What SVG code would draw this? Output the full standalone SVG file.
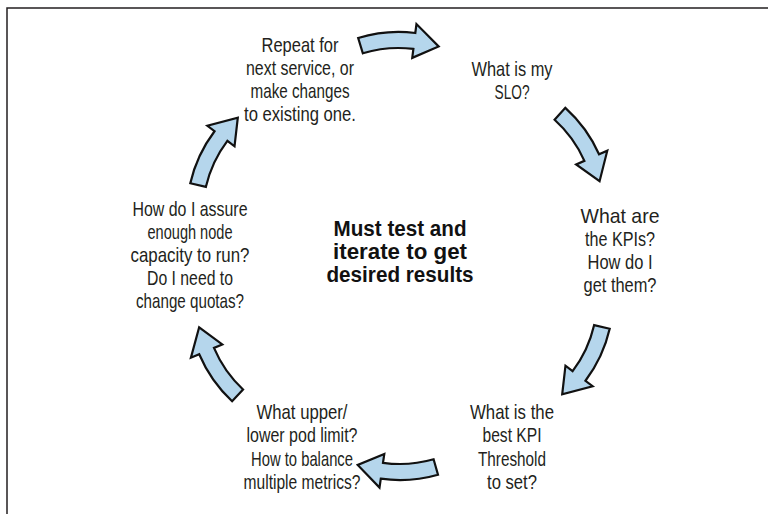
<svg xmlns="http://www.w3.org/2000/svg" xmlns:xlink="http://www.w3.org/1999/xlink" width="768" height="514" viewBox="0 0 768 514">
  <style>
    .frame { fill: none; stroke: #231f20; stroke-width: 1.5; }
    .arrow { fill: #b5d6ec; stroke: #111; stroke-width: 2.2; stroke-linejoin: miter; }
    .t { font-family: "Liberation Sans", Arial, sans-serif; font-size: 21px; fill: #231f20; text-anchor: middle; }
    .b { font-family: "Liberation Sans", Arial, sans-serif; font-size: 22px; font-weight: bold; fill: #111; text-anchor: middle; }
  </style>
  <defs>
    <!-- curved block arrow, drawn at the top of the cycle (relative to the cycle centre) -->
    <path id="cycle-arrow" class="arrow" d="M -38.0,-218.7 A 138 138 0 0 1 19.2,-222.7 L 20.5,-231.6 L 42.3,-208.9 L 15.7,-197.9 L 17.0,-206.8 A 122 122 0 0 0 -33.6,-203.3 Z"/>
  </defs>

  <rect width="768" height="514" fill="#fff"/>
  <path class="frame" d="M7,514 V8 H768"/>

  <g id="connectors">
    <use xlink:href="#cycle-arrow" transform="translate(400,256) rotate(-1)"/>
    <use xlink:href="#cycle-arrow" transform="translate(400,256) rotate(58)"/>
    <use xlink:href="#cycle-arrow" transform="translate(400,256) rotate(119)"/>
    <use xlink:href="#cycle-arrow" transform="translate(400,256) rotate(180)"/>
    <use xlink:href="#cycle-arrow" transform="translate(400,256) rotate(239)"/>
    <use xlink:href="#cycle-arrow" transform="translate(400,256) rotate(299)"/>
  </g>

  <g id="node-repeat">
    <text class="t" x="300" y="52" textLength="77" lengthAdjust="spacingAndGlyphs">Repeat for</text>
    <text class="t" x="300" y="75" textLength="108" lengthAdjust="spacingAndGlyphs">next service, or</text>
    <text class="t" x="300" y="98" textLength="99" lengthAdjust="spacingAndGlyphs">make changes</text>
    <text class="t" x="300" y="121" textLength="112" lengthAdjust="spacingAndGlyphs">to existing one.</text>
  </g>

  <g id="node-slo">
    <text class="t" x="512" y="76" textLength="81" lengthAdjust="spacingAndGlyphs">What is my</text>
    <text class="t" x="512" y="99" textLength="35" lengthAdjust="spacingAndGlyphs">SLO?</text>
  </g>

  <g id="node-kpis">
    <text class="t" x="620" y="223" textLength="79" lengthAdjust="spacingAndGlyphs">What are</text>
    <text class="t" x="620" y="246" textLength="70" lengthAdjust="spacingAndGlyphs">the KPIs?</text>
    <text class="t" x="620" y="269" textLength="65" lengthAdjust="spacingAndGlyphs">How do I</text>
    <text class="t" x="620" y="292" textLength="73" lengthAdjust="spacingAndGlyphs">get them?</text>
  </g>

  <g id="node-threshold">
    <text class="t" x="512" y="419" textLength="84" lengthAdjust="spacingAndGlyphs">What is the</text>
    <text class="t" x="512" y="442" textLength="59" lengthAdjust="spacingAndGlyphs">best KPI</text>
    <text class="t" x="512" y="466" textLength="68" lengthAdjust="spacingAndGlyphs">Threshold</text>
    <text class="t" x="512" y="489" textLength="50" lengthAdjust="spacingAndGlyphs">to set?</text>
  </g>

  <g id="node-pod-limit">
    <text class="t" x="302" y="419" textLength="91" lengthAdjust="spacingAndGlyphs">What upper/</text>
    <text class="t" x="302" y="442" textLength="111" lengthAdjust="spacingAndGlyphs">lower pod limit?</text>
    <text class="t" x="302" y="466" textLength="102" lengthAdjust="spacingAndGlyphs">How to balance</text>
    <text class="t" x="302" y="489" textLength="117" lengthAdjust="spacingAndGlyphs">multiple metrics?</text>
  </g>

  <g id="node-capacity">
    <text class="t" x="190" y="216" textLength="115" lengthAdjust="spacingAndGlyphs">How do I assure</text>
    <text class="t" x="190" y="239" textLength="85" lengthAdjust="spacingAndGlyphs">enough node</text>
    <text class="t" x="190" y="262" textLength="119" lengthAdjust="spacingAndGlyphs">capacity to run?</text>
    <text class="t" x="190" y="285" textLength="86" lengthAdjust="spacingAndGlyphs">Do I need to</text>
    <text class="t" x="190" y="308" textLength="108" lengthAdjust="spacingAndGlyphs">change quotas?</text>
  </g>

  <g id="node-center">
    <text class="b" x="400" y="236" textLength="133" lengthAdjust="spacingAndGlyphs">Must test and</text>
    <text class="b" x="400" y="259" textLength="134" lengthAdjust="spacingAndGlyphs">iterate to get</text>
    <text class="b" x="400" y="282" textLength="147" lengthAdjust="spacingAndGlyphs">desired results</text>
  </g>
</svg>
